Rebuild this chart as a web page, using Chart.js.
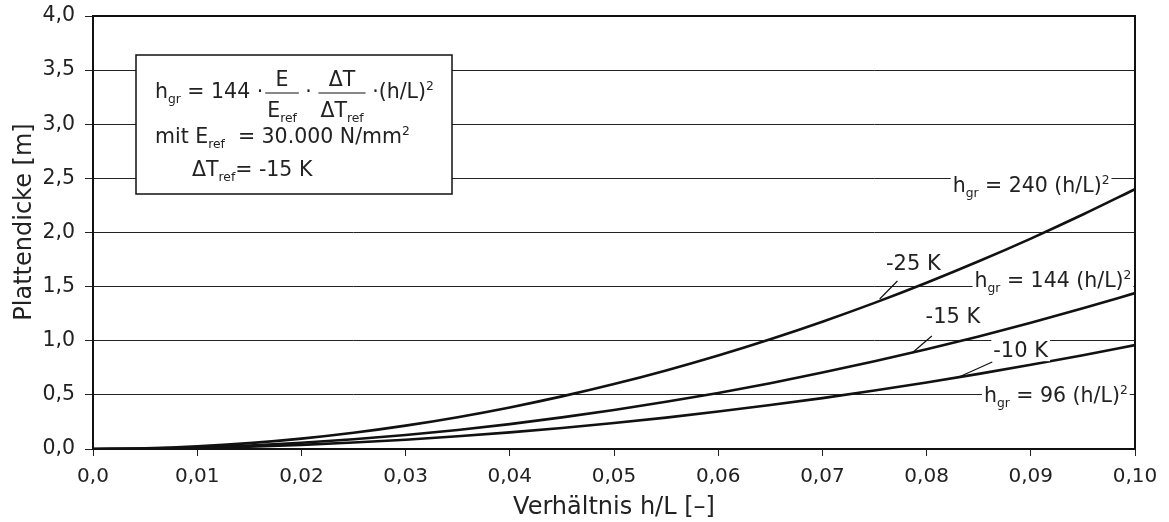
<!DOCTYPE html>
<html>
<head>
<meta charset="utf-8">
<script src="https://cdn.jsdelivr.net/npm/chart.js@4.4.0/dist/chart.umd.min.js"></script>
<style>
  html, body { margin: 0; padding: 0; background: #fff; }
  #wrap { width: 1169px; height: 522px; }
</style>
</head>
<body>
<div id="wrap"><canvas id="chart" width="1169" height="522"></canvas></div>
<script>
// Werte
const verhaeltnis = [0, 0.005, 0.01, 0.015, 0.02, 0.025, 0.03, 0.035, 0.04, 0.045, 0.05,
                     0.055, 0.06, 0.065, 0.07, 0.075, 0.08, 0.085, 0.09, 0.095, 0.10];
const dicke25K = [0, 0.006, 0.024, 0.054, 0.096, 0.150, 0.216, 0.294, 0.384, 0.486, 0.600,
                  0.726, 0.864, 1.014, 1.176, 1.350, 1.536, 1.734, 1.944, 2.166, 2.400];
const dicke15K = [0, 0.004, 0.014, 0.032, 0.058, 0.090, 0.130, 0.176, 0.230, 0.292, 0.360,
                  0.436, 0.518, 0.608, 0.706, 0.810, 0.922, 1.040, 1.166, 1.300, 1.440];
const dicke10K = [0, 0.002, 0.010, 0.022, 0.038, 0.060, 0.086, 0.118, 0.154, 0.194, 0.240,
                  0.290, 0.346, 0.406, 0.470, 0.540, 0.614, 0.694, 0.778, 0.866, 0.960];
const yTicks = [0, 0.5, 1.0, 1.5, 2.0, 2.5, 3.0, 3.5, 4.0];

const FONT = '"DejaVu Sans", sans-serif';

const toPts = (ys) => verhaeltnis.map((x, i) => ({ x: x, y: ys[i] }));

// Text mit Tief-/Hochstellungen zeichnen
function richText(ctx, parts, x, y, size) {
    let cx = x;
    parts.forEach(p => {
        const s = p.sub || p.sup ? size * 0.6 : size;
        ctx.font = s + 'px ' + FONT;
        const dy = p.sub ? size * 0.25 : (p.sup ? -size * 0.38 : 0);
        ctx.fillText(p.t, cx, y + dy);
        cx += ctx.measureText(p.t).width;
    });
    return cx - x;
}
function measureRich(ctx, parts, size) {
    let w = 0;
    parts.forEach(p => {
        const s = p.sub || p.sup ? size * 0.6 : size;
        ctx.font = s + 'px ' + FONT;
        w += ctx.measureText(p.t).width;
    });
    return w;
}

const beschriftung = {
    id: 'beschriftung',
    afterDatasetsDraw(chart) {
        const ctx = chart.ctx;
        const xs = chart.scales.x, ys = chart.scales.y;
        const ca = chart.chartArea;
        const px = v => xs.getPixelForValue(v);
        const py = v => ys.getPixelForValue(v);
        ctx.save();
        ctx.fillStyle = '#222';
        ctx.strokeStyle = '#111';
        ctx.textBaseline = 'alphabetic';
        ctx.textAlign = 'left';

        // Kurvenbeschriftungen mit weißem Hintergrund
        const labels = [
            { x: 0.0825, y: 2.374, parts: [{t:'h'},{t:'gr',sub:true},{t:' = 240 (h/L)'},{t:'2',sup:true}] },
            { x: 0.0846, y: 1.497, parts: [{t:'h'},{t:'gr',sub:true},{t:' = 144 (h/L)'},{t:'2',sup:true}] },
            { x: 0.0855, y: 0.434, parts: [{t:'h'},{t:'gr',sub:true},{t:' = 96 (h/L)'},{t:'2',sup:true}] },
            { x: 0.0761, y: 1.654, parts: [{t:'-25 K'}], line: [0.0772, 1.552, 0.0755, 1.386] },
            { x: 0.0799, y: 1.164, parts: [{t:'-15 K'}], line: [0.0805, 1.044, 0.0786, 0.887] },
            { x: 0.0864, y: 0.850, parts: [{t:'-10 K'}], line: [0.0863, 0.804, 0.0831, 0.665] }
        ];
        labels.forEach(l => {
            const fs = l.line ? 21 : 20.5;
            const x = px(l.x), y = py(l.y);
            const w = measureRich(ctx, l.parts, fs);
            ctx.fillStyle = '#fff';
            ctx.fillRect(x - 2, y - fs * 0.85, w + 4, fs * 1.05);
            ctx.fillStyle = '#222';
            richText(ctx, l.parts, x, y, fs);
            if (l.line) {
                ctx.lineWidth = 1.2;
                ctx.beginPath();
                ctx.moveTo(px(l.line[0]), py(l.line[1]));
                ctx.lineTo(px(l.line[2]), py(l.line[3]));
                ctx.stroke();
            }
        });

        // Formelkasten
        const bx = ca.left + 43, by = ca.top + 39, bw = 316, bh = 139;
        ctx.fillStyle = '#fff';
        ctx.fillRect(bx, by, bw, bh);
        ctx.lineWidth = 1.5;
        ctx.strokeRect(bx, by, bw, bh);
        ctx.fillStyle = '#222';

        const f = 20.5;
        let x = bx + 19;
        const y1 = by + 43;
        x += richText(ctx, [{t:'h'},{t:'gr',sub:true},{t:' = 144 ·'}], x, y1, f);
        // Bruch mit Zähler und Nenner
        const frac = (num, den, x0) => {
            const wn = measureRich(ctx, num, f), wd = measureRich(ctx, den, f);
            const w = Math.max(wn, wd) + 4;
            richText(ctx, num, x0 + (w - wn) / 2, y1 - 12, f);
            richText(ctx, den, x0 + (w - wd) / 2, y1 + 19, f);
            ctx.lineWidth = 1;
            ctx.beginPath();
            ctx.moveTo(x0, y1 - 5);
            ctx.lineTo(x0 + w, y1 - 5);
            ctx.stroke();
            return w;
        };
        x += 2;
        x += frac([{t:'E'}], [{t:'E'},{t:'ref',sub:true}], x);
        x += richText(ctx, [{t:' · '}], x, y1, f);
        x += frac([{t:'ΔT'}], [{t:'ΔT'},{t:'ref',sub:true}], x);
        richText(ctx, [{t:' ·(h/L)'},{t:'2',sup:true}], x, y1, f);

        richText(ctx, [{t:'mit E'},{t:'ref',sub:true},{t:'  = 30.000 N/mm'},{t:'2',sup:true}], bx + 19, by + 88, f);
        richText(ctx, [{t:'ΔT'},{t:'ref',sub:true},{t:'= -15 K'}], bx + 56, by + 121, f);

        // Rahmen des Diagramms
        ctx.lineWidth = 2;
        ctx.strokeRect(ca.left, ca.top, ca.right - ca.left, ca.bottom - ca.top);

        // Titel der y-Achse
        ctx.save();
        ctx.translate(31, 222);
        ctx.rotate(-Math.PI / 2);
        ctx.textAlign = 'center';
        ctx.font = '24px ' + FONT;
        ctx.fillText('Plattendicke [m]', 0, 0);
        ctx.restore();
        ctx.restore();
    }
};

const linie = (ys) => ({
    data: toPts(ys),
    borderColor: '#111',
    borderWidth: 2.6,
    pointRadius: 0,
    fill: false,
    cubicInterpolationMode: 'monotone'
});

new Chart(document.getElementById('chart'), {
    type: 'line',
    data: {
        datasets: [linie(dicke25K), linie(dicke15K), linie(dicke10K)]
    },
    options: {
        responsive: false,
        animation: false,
        layout: { padding: { left: 0, right: 34, top: 16, bottom: 0 } },
        plugins: { legend: { display: false }, tooltip: { enabled: false } },
        scales: {
            x: {
                type: 'linear',
                min: 0, max: 0.1,
                afterFit: (s) => { s.height = 73; s.paddingLeft = 0; s.paddingRight = 0; },
                ticks: {
                    stepSize: 0.01,
                    color: '#222',
                    font: { family: FONT, size: 20 },
                    padding: 9,
                    maxRotation: 0,
                    callback: (v) => v === 0 ? '0,0' : v.toFixed(2).replace('.', ',')
                },
                grid: { drawOnChartArea: false, color: '#222', tickLength: 7, tickWidth: 1 },
                border: { display: false },
                title: {
                    display: true,
                    text: 'Verhältnis h/L [–]',
                    color: '#222',
                    font: { family: FONT, size: 24 },
                    padding: { top: 0, bottom: 0 }
                }
            },
            y: {
                min: 0, max: 4,
                afterFit: (s) => { s.width = 93; s.paddingTop = 0; s.paddingBottom = 0; },
                afterBuildTicks: (s) => { s.ticks = yTicks.map(v => ({ value: v })); },
                ticks: {
                    color: '#222',
                    font: { family: FONT, size: 20.5 },
                    padding: 10,
                    callback: (v) => v.toFixed(1).replace('.', ',')
                },
                grid: { color: '#222', lineWidth: 1, tickLength: 8 },
                border: { display: false },
                title: { display: false }
            }
        }
    },
    plugins: [beschriftung]
});
</script>
</body>
</html>
